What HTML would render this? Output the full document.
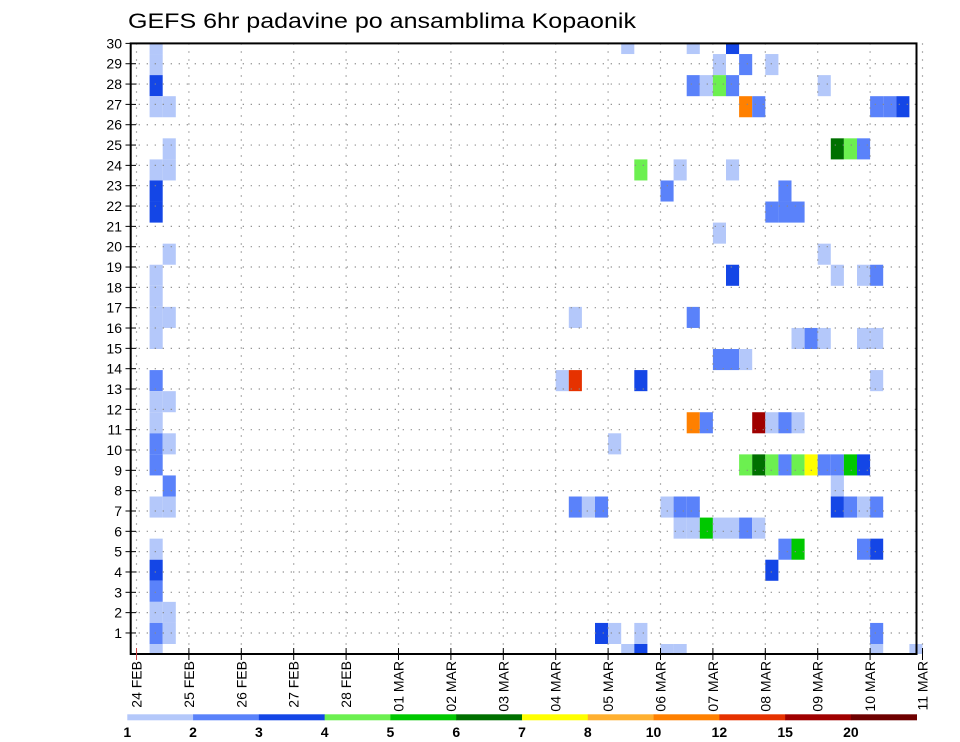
<!DOCTYPE html>
<html><head><meta charset="utf-8"><style>
html,body{margin:0;padding:0;background:#fff;}
svg{display:block;font-family:"Liberation Sans",sans-serif;}
</style></head><body>
<svg id="chart" width="960" height="742" viewBox="0 0 960 742" xmlns="http://www.w3.org/2000/svg">
<text x="128" y="28" font-size="21" textLength="508" lengthAdjust="spacingAndGlyphs" fill="#000">GEFS 6hr padavine po ansamblima Kopaonik</text>
<g id="cells"></g>
<g id="grid"></g>
<g id="axes"></g>
<g id="cbar"></g>
</svg>
<script>
// time index (6-hourly steps from 24 FEB 00z)
const cellTime = [
 1,1,1,1,1,1,1,1,1,1,1,1,1,1,1,1,1,1,1,1,1,1,1,
 2,2,2,2,2,2,2,2,2,2,2,
 37,42,45, 44,46,48, 42,43,44,45,52, 46,47,56,57,58, 53,54,55, 38,41,45, 40,49, 48,49,50, 44, 52, 45,53,55,56,
 33,42, 50,51,52,55,56, 44,45,46, 32,33,38,56, 42,43,47,48,49,50, 36,
 46,47,48,49,50,51,52,53,54,55, 53, 33,34,35,40,41,42,53,54,55,56,
 41,42,43,44,45,46,47, 49,50,55,56, 48, 35,36,38,56, 37,38,40,41,56,59
];
// ensemble member row index (from bottom)
const cellMember = [
 29,28,27,26,23,22,21,18,17,16,15,13,12,11,10,9,7,5,4,3,2,1,0,
 26,24,23,19,16,12,10,8,7,2,1,
 29,29,29, 28,28,28, 27,27,27,27,27, 26,26,26,26,26, 24,24,24, 23,23,23, 22,22, 21,21,21, 20, 19, 18,18,18,18,
 16,16, 15,15,15,15,15, 14,14,14, 13,13,13,13, 11,11,11,11,11,11, 10,
 9,9,9,9,9,9,9,9,9,9, 8, 7,7,7,7,7,7,7,7,7,7,
 6,6,6,6,6,6,6, 5,5,5,5, 4, 1,1,1,1, 0,0,0,0,0,0
];
// 6hr precipitation (mm)
const cellValue = [
 1.5,1.5,3.5,1.5,1.5,3.5,3.5,1.5,1.5,1.5,1.5,2.5,1.5,1.5,2.5,2.5,1.5,1.5,3.5,2.5,1.5,2.5,1.5,
 1.5,1.5,1.5,1.5,1.5,1.5,1.5,2.5,1.5,1.5,1.5,
 1.5,1.5,3.5, 1.5,2.5,1.5, 2.5,1.5,4.5,2.5,1.5, 11,2.5,2.5,2.5,3.5, 6.5,4.5,2.5, 4.5,1.5,1.5, 2.5,2.5, 2.5,2.5,2.5, 1.5, 1.5, 3.5,1.5,1.5,2.5,
 1.5,2.5, 1.5,2.5,1.5,1.5,1.5, 2.5,2.5,1.5, 1.5,13,3.5,1.5, 11,2.5,17,1.5,2.5,1.5, 1.5,
 4.5,6.5,4.5,2.5,4.5,7.5,2.5,2.5,5.5,3.5, 1.5, 2.5,1.5,2.5,1.5,2.5,2.5,3.5,2.5,1.5,2.5,
 1.5,1.5,5.5,1.5,1.5,2.5,1.5, 2.5,5.5,2.5,3.5, 3.5, 3.5,1.5,1.5,2.5, 1.5,3.5,1.5,1.5,1.5,1.5
];
const levels = [1,2,3,4,5,6,7,8,10,12,15,20];
const levelColors = ["#b4c8fa","#5a82fa","#1446e6","#6cf050","#00c800","#007000","#ffff00","#ffb030","#ff8000","#e63200","#a00000","#6e0000"];
const yTickLabels = [1,2,3,4,5,6,7,8,9,10,11,12,13,14,15,16,17,18,19,20,21,22,23,24,25,26,27,28,29,30];
const xTickLabels = ["24 FEB","25 FEB","26 FEB","27 FEB","28 FEB","01 MAR","02 MAR","03 MAR","04 MAR","05 MAR","06 MAR","07 MAR","08 MAR","09 MAR","10 MAR","11 MAR"];

const NS="http://www.w3.org/2000/svg";
const L=130.7,R=916.5,T=43.4,B=654;
const X0=136.5, DAY=52.4, COLW=DAY/4;
const xTime=i=>X0+i*COLW;
const xDay=d=>X0+d*DAY;
const yLabel=r=>T+(30-r)*20.33;
const cellTop=k=>644-21.07*k;
const CELLH=21.07;
function colorFor(v){let c=0;for(let j=0;j<levels.length;j++){if(v>=levels[j])c=j;}return levelColors[c];}
function mk(tag,attrs,parent){const e=document.createElementNS(NS,tag);for(const a in attrs)e.setAttribute(a,attrs[a]);parent.appendChild(e);return e;}

const gC=document.getElementById('cells');
for(let n=0;n<cellTime.length;n++){
  let y1=Math.max(T,cellTop(cellMember[n])), y2=Math.min(B,cellTop(cellMember[n])+CELLH);
  const r=mk('rect',{x:xTime(cellTime[n]).toFixed(2),y:y1.toFixed(2),width:COLW.toFixed(2),height:(y2-y1).toFixed(2),fill:colorFor(cellValue[n])},gC);
  
  
}
const gG=document.getElementById('grid');
yTickLabels.forEach(v=>{
  const l=mk('line',{x1:L,x2:R,y1:yLabel(v),y2:yLabel(v),stroke:"#888","stroke-width":1.2,"stroke-dasharray":"1.2 6.8"},gG);
  
  
});
xTickLabels.forEach((t,d)=>{
  const l=mk('line',{x1:xDay(d),x2:xDay(d),y1:T,y2:B,stroke:"#888","stroke-width":1.2,"stroke-dasharray":"1.2 6.8"},gG);
  
  
});
const gA=document.getElementById('axes');
const box=mk('rect',{x:L,y:T,width:R-L,height:B-T,fill:"none",stroke:"#000","stroke-width":2},gA);


yTickLabels.forEach(v=>{
  const y=yLabel(v);
  const tk=mk('line',{x1:125.5,x2:136,y1:y,y2:y,stroke:"#000","stroke-width":1},gA);
  
  
  const tx=mk('text',{x:122,y:y+5,"font-size":14,"text-anchor":"end",fill:"#000"},gA);
  tx.textContent=v;
  
  
});
xTickLabels.forEach((t,d)=>{
  const x=xDay(d);
  const tk=mk('line',{x1:x,x2:x,y1:B-6,y2:B+6,stroke:d===0?"#c44":"#000","stroke-width":1},gA);
  
  
  const tx=mk('text',{x:0,y:0,"font-size":14,"text-anchor":"end",fill:"#000",transform:`translate(${(x+5).toFixed(1)},661) rotate(-90)`},gA);
  tx.textContent=t;
  
  
});
const gB=document.getElementById('cbar');
const CB0=127.3, CBW=(916.7-127.3)/levels.length;
levels.forEach((lv,j)=>{
  const r=mk('rect',{x:(CB0+j*CBW).toFixed(2),y:714.3,width:(CBW+0.3).toFixed(2),height:6,fill:levelColors[j]},gB);
  
  
  const tx=mk('text',{x:(CB0+j*CBW).toFixed(2),y:737,"font-size":14,"font-weight":"bold","text-anchor":"middle",fill:"#000"},gB);
  tx.textContent=lv;
  
  
});
</script>
</body></html>
